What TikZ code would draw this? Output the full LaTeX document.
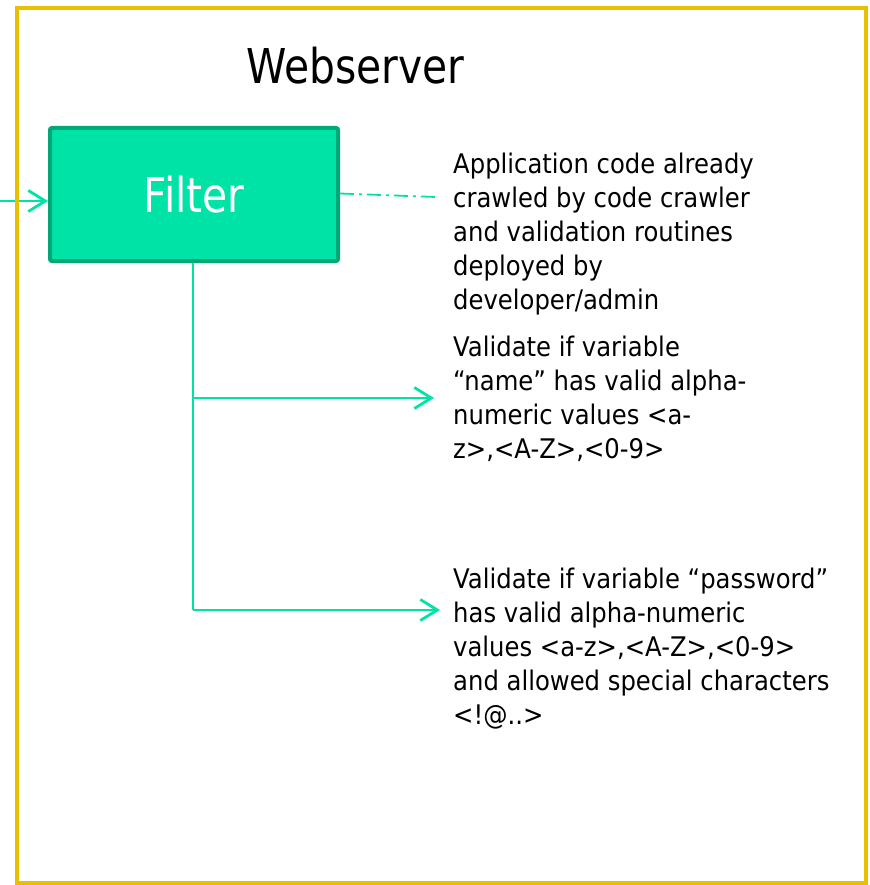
\documentclass[tikz,border=0pt]{standalone}
\usepackage{fontspec}
\setmainfont{DejaVu Sans}[FakeStretch=0.9]
\newfontfamily\bigfont{DejaVu Sans}[FakeStretch=0.85]
\usetikzlibrary{arrows.meta}
\definecolor{mint}{RGB}{0,227,166}
\definecolor{mintdark}{RGB}{0,168,120}
\definecolor{frameyellow}{RGB}{232,192,0}
\tikzset{
  conn/.style={draw=mint, line width=2.8pt},
  arr/.style={conn, -{Straight Barb[length=17pt,width=21pt,line width=2.8pt]}},
  note/.style={anchor=north west, inner sep=0pt, align=left, font=\fontsize{27}{34}\selectfont},
}
\newcommand{\tstrut}{\rule{0pt}{25pt}}
\begin{document}
\begin{tikzpicture}[x=1pt,y=-1pt]
\useasboundingbox (0,0) rectangle (869,885);
\node[anchor=base west, inner sep=0pt, font=\bigfont\fontsize{48}{56}\selectfont] (title) at (246,84) {Webserver};
\node[draw=mintdark, fill=mint, line width=4pt, rounded corners=2pt, minimum width=288pt, minimum height=133pt, inner sep=0pt, text=white, font=\bigfont\fontsize{48}{56}\selectfont] (filter) at (194,194.5) {Filter};
\node[note] (t1) at (453,148) {\tstrut Application code already\\crawled by code crawler\\and validation routines\\deployed by\\developer/admin};
\node[note] (t2) at (453,331) {\tstrut Validate if variable\\“name” has valid alpha-\\numeric values <a-\\z>,<A-Z>,<0-9>};
\node[note] (t3) at (453,563) {\tstrut Validate if variable “password”\\has valid alpha-numeric\\values <a-z>,<A-Z>,<0-9>\\and allowed special characters\\<!@..>};
\coordinate (in) at (0,201);
\coordinate (dd) at (436,197);
\coordinate (j1) at (193,398);
\coordinate (j2) at (193,610);
\coordinate (e1) at (434,398);
\coordinate (e2) at (440,610);
\draw[arr] (in) -- (in -| filter.west);
\draw[conn, line width=1.8pt, dash pattern=on 14pt off 5pt on 3pt off 5pt] (filter.east) ++(0,-1) -- (dd);
\draw[conn] (filter.south -| j1) -- (j2);
\draw[arr] (j1) -- (e1);
\draw[arr] (j2) -- (e2);
\draw[frameyellow, line width=4.5pt] (17,8) rectangle (866,883);
\end{tikzpicture}
\end{document}
